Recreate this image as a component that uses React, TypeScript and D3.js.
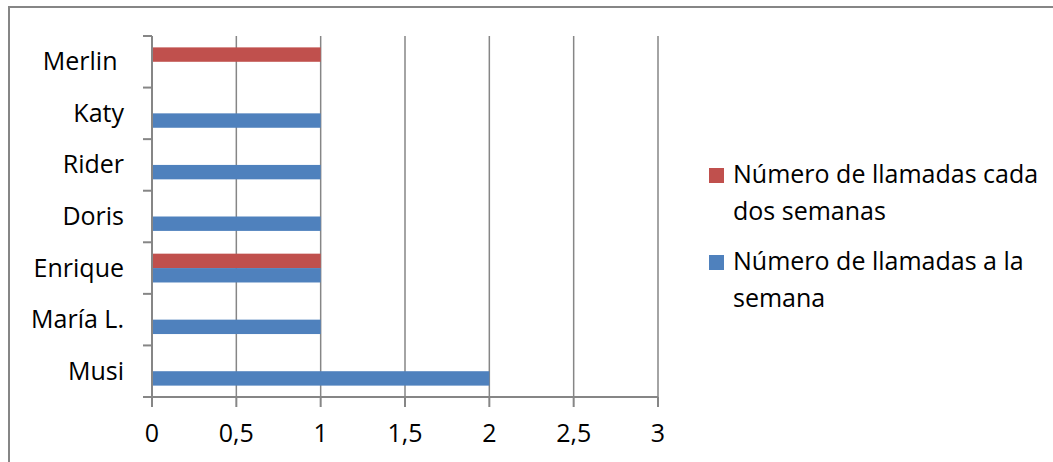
import React from "react";
import * as d3 from "d3";

const categories = ["Merlin ", "Katy", "Rider", "Doris", "Enrique", "María L.", "Musi"];
const seriesNames = ["Número de llamadas cada dos semanas", "Número de llamadas a la semana"];
const biweekly = [1, 0, 0, 0, 1, 0, 0];
const weekly = [0, 1, 1, 1, 1, 1, 2];
const xTicks = [0, 0.5, 1, 1.5, 2, 2.5, 3];
const legendLines = [
  ["Número de llamadas cada", "dos semanas"],
  ["Número de llamadas a la", "semana"],
];

const W = 1053;
const H = 462;
const RED = "#C0504D";
const BLUE = "#4F81BD";
const GRID = "#868686";
const FONT = "'Open Sans', 'Noto Sans', sans-serif";

export default function App() {
  const x = d3.scaleLinear().domain([0, 3]).range([152, 658]);
  const y = d3.scaleBand<string>().domain(categories).range([36, 397]).paddingInner(0).paddingOuter(0);
  const sub = d3
    .scaleBand<string>()
    .domain(["biweekly", "weekly"])
    .range([0, y.bandwidth()])
    .paddingInner(0)
    .paddingOuter(0.79);
  const bounds = [...categories.map((c) => y(c)!), y.range()[1]];
  const series = [
    { key: "biweekly", values: biweekly, color: RED },
    { key: "weekly", values: weekly, color: BLUE },
  ];
  const fs = 25;

  return (
    <div style={{ position: "absolute", left: 0, top: 0 }}>
      <svg width={W} height={H} style={{ display: "block", background: "#fff" }}>
        <rect x={9} y={7} width={W + 20} height={H + 20} fill="#fff" stroke={GRID} strokeWidth={2} />
        {/* gridlines */}
        {xTicks.filter((t) => t > 0).map((t) => (
          <line key={"g" + t} x1={x(t)} x2={x(t)} y1={y.range()[0]} y2={y.range()[1]} stroke={GRID} strokeWidth={1.5} />
        ))}
        {/* bars */}
        {series.map((s) =>
          categories.map((c, i) =>
            s.values[i] > 0 ? (
              <rect
                key={s.key + c}
                x={x(0)}
                y={y(c)! + sub(s.key)!}
                width={x(s.values[i]) - x(0)}
                height={sub.bandwidth()}
                fill={s.color}
              />
            ) : null
          )
        )}
        {/* axes */}
        <line x1={x(0)} x2={x(0)} y1={y.range()[0]} y2={y.range()[1]} stroke={GRID} strokeWidth={2} />
        <line x1={x(0)} x2={x(3)} y1={y.range()[1]} y2={y.range()[1]} stroke={GRID} strokeWidth={2} />
        {bounds.map((b, i) => (
          <line key={"yt" + i} x1={x(0) - 9} x2={x(0)} y1={b} y2={b} stroke={GRID} strokeWidth={2} />
        ))}
        {xTicks.map((t) => (
          <line key={"xt" + t} x1={x(t)} x2={x(t)} y1={y.range()[1]} y2={y.range()[1] + 10} stroke={GRID} strokeWidth={2} />
        ))}
        {/* category labels */}
        {categories.map((c) => (
          <text
            key={"l" + c}
            x={124}
            y={y(c)! + y.bandwidth() / 2 + 8.5}
            textAnchor="end"
            fontFamily={FONT}
            fontSize={fs}
            fill="#000"
            style={{ whiteSpace: "pre" }}
          >
            {c}
          </text>
        ))}
        {/* x tick labels */}
        {xTicks.map((t) => (
          <text key={"xl" + t} x={x(t)} y={442} textAnchor="middle" fontFamily={FONT} fontSize={fs} fill="#000">
            {String(t).replace(".", ",")}
          </text>
        ))}
        {/* legend */}
        {series.map((s, i) => {
          const top = 168 + i * 87;
          return (
            <g key={"lg" + s.key}>
              <title>{seriesNames[i]}</title>
              <rect x={709} y={top} width={15} height={15} fill={s.color} />
              {legendLines[i].map((ln, j) => (
                <text key={j} x={733} y={top + 15 + j * 37} fontFamily={FONT} fontSize={fs} fill="#000">
                  {ln}
                </text>
              ))}
            </g>
          );
        })}
      </svg>
    </div>
  );
}
